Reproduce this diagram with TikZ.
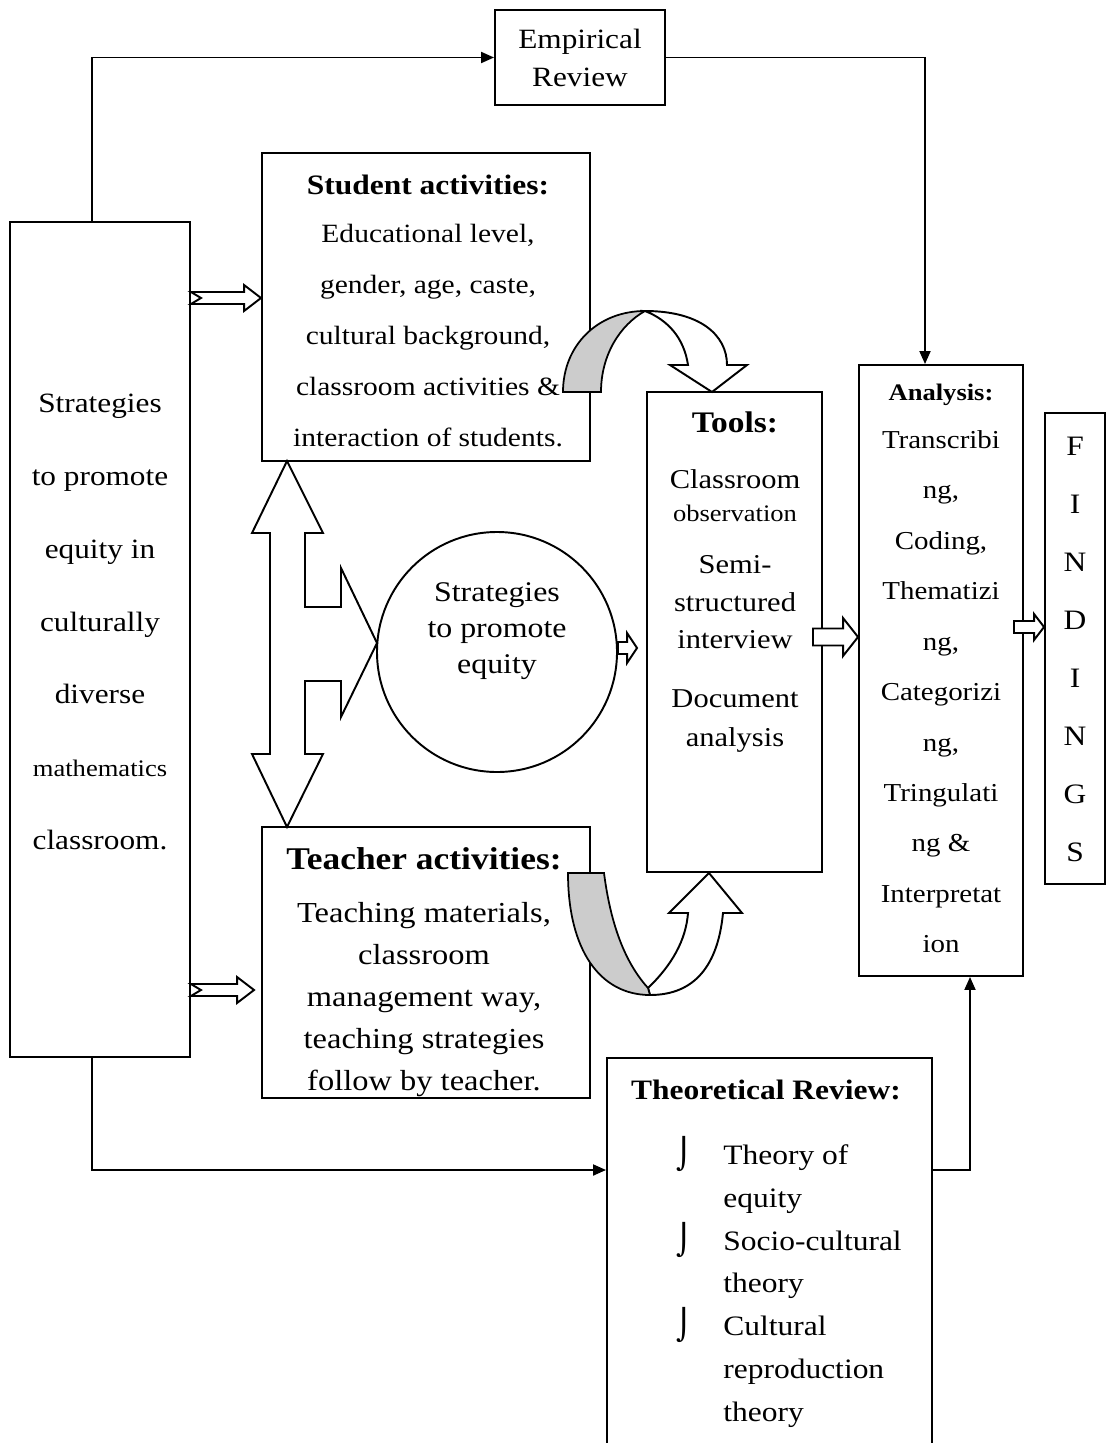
\documentclass[tikz,border=0pt]{standalone}
\usepackage{fontspec}
\setmainfont{Liberation Serif}[FakeStretch=1.12]
\newfontfamily\bulletfont{DejaVu Sans}
\usetikzlibrary{arrows.meta, calc, positioning}
\tikzset{
  box/.style={draw, line width=1.1pt, inner sep=0pt},
  txt/.style={align=center, inner sep=0pt},
  conn/.style={line width=1.1pt, -{Triangle[length=0.26cm, width=0.22cm]}},
  blk/.style={draw, line width=1.1pt, fill=white, line join=miter},
  shade/.style={draw, line width=1pt, fill=gray!40},
}
\newcommand{\px}[1]{#1*0.02cm}
\newcommand{\bul}{\makebox[0.94cm][l]{\bulletfont\fontsize{17}{17}\selectfont ⌡}}
% block arrow pointing right: tail, tip, shaft half, head half, head length, notch
\newcommand{\rblock}[6]{%
  \draw[blk] let \p1=#1, \p2=#2 in
    (\x1,{\y1+#3*0.02cm}) -- ({\x2-#5*0.02cm},{\y1+#3*0.02cm})
    -- ({\x2-#5*0.02cm},{\y1+#4*0.02cm}) -- (\x2,\y1)
    -- ({\x2-#5*0.02cm},{\y1-#4*0.02cm}) -- ({\x2-#5*0.02cm},{\y1-#3*0.02cm})
    -- (\x1,{\y1-#3*0.02cm}) -- ({\x1+#6*0.02cm},\y1) -- cycle;}

\begin{document}
\begin{tikzpicture}[x=0.02cm, y=-0.02cm]
  \clip (0,0) rectangle (1106,1443);
  % boxes
  \node[box, minimum width=\px{180}, minimum height=\px{835}] (strat) at (100,639.5) {};
  \node[txt, font=\fontsize{15.9}{41.5}\selectfont] (stratT) at (100,622)
    {Strategies\\to promote\\equity in\\culturally\\diverse\\{\fontsize{13.5}{41.5}\selectfont mathematics}\\classroom.};
  \node[box, txt, minimum width=\px{170}, minimum height=\px{95}, font=\fontsize{15.9}{21.6}\selectfont] (emp) at (580,57.5) {Empirical\\Review};
  \node[box, minimum width=\px{328}, minimum height=\px{308}] (stud) at (426,307) {};
  \node[txt, font=\fontsize{15}{29}\selectfont] (studT) at (428,311)
    {{\bfseries\fontsize{16}{29}\selectfont Student activities:}\\[-1.7pt] Educational level,\\ gender, age, caste,\\ cultural background,\\ classroom activities \&\\ interaction of students.};
  \node[box, minimum width=\px{328}, minimum height=\px{271}] (teach) at (426,962.5) {};
  \node[txt, font=\fontsize{16.5}{23.9}\selectfont] (teachT) at (424,972)
    {{\bfseries\fontsize{18}{23.9}\selectfont Teacher activities:}\\[6.3pt] Teaching materials,\\ classroom\\ management way,\\ teaching strategies\\ follow by teacher.};
  \node[box, circle, minimum size=\px{240}] (eq) at (497,652) {};
  \node[txt, font=\fontsize{16.2}{20.5}\selectfont] (eqT) at (497,631) {Strategies\\to promote\\equity};
  \node[box, minimum width=\px{175}, minimum height=\px{480}] (tools) at (734.5,632) {};
  \node[txt, font=\fontsize{15.5}{21}\selectfont] (toolsT) at (735,582)
    {{\bfseries\fontsize{17}{21}\selectfont Tools:}\\[10.8pt] Classroom\\[-2.3pt] {\fontsize{13.5}{21}\selectfont observation}\\[8.5pt] Semi-\\[1pt] structured\\ interview\\[12.5pt] Document\\[1pt] analysis};
  \node[box, minimum width=\px{164}, minimum height=\px{611}] (ana) at (941,670.5) {};
  \node[txt, font=\fontsize{14.7}{28.7}\selectfont] (anaT) at (941,668.5)
    {{\bfseries\fontsize{13.5}{28.7}\selectfont Analysis:}\\[-1.4pt] Transcribi\\ ng,\\ Coding,\\ Thematizi\\ ng,\\ Categorizi\\ ng,\\ Tringulati\\ ng \&\\ Interpretat\\ ion};
  \node[box, minimum width=\px{60}, minimum height=\px{471}] (find) at (1075,648.5) {};
  \node[txt, font=\fontsize{16}{33}\selectfont] (findT) at (1075,649) {F\\I\\N\\D\\I\\N\\G\\S};
  \node[box, minimum width=\px{325}, minimum height=\px{500}, anchor=north] (theo) at (769.5,1057) {};
  \node[txt, font=\bfseries\fontsize{16}{20}\selectfont] (theoH) at (766,1090) {Theoretical Review:};
  \node[inner sep=0pt, anchor=north west, font=\fontsize{16}{24.4}\selectfont] (theoL) at (676,1134)
    {\begin{tabular}{@{}l@{}l@{}}
      \bul & Theory of\\
       & equity\\
      \bul & Socio-cultural\\
       & theory\\
      \bul & Cultural\\
       & reproduction\\
       & theory
    \end{tabular}};
  % helper coordinates
  \coordinate (xL) at (92,0);
  \coordinate (xR) at (925,0);
  \coordinate (xB) at (970,0);
  \coordinate (yT) at (0,1170);
  \coordinate (yA) at (0,298);
  \coordinate (yB) at (0,990);
  \coordinate (yC) at (0,648);
  \coordinate (yD) at (0,637);
  \coordinate (yE) at (0,627);
  % line connectors
  \draw[conn] (strat.north -| xL) |- (emp.west);
  \draw[conn] (emp.east) -| (ana.north -| xR);
  \draw[conn] (strat.south -| xL) |- (theo.west |- yT);
  \draw[conn] (theo.east |- yT) -| (ana.south -| xB);
  % block arrows
  \rblock{(strat.east |- yA)}{(stud.west |- yA)}{6}{13}{17}{10}
  \rblock{(strat.east |- yB)}{($(teach.west |- yB)+(-7,0)$)}{6}{13}{17}{10}
  \rblock{(eq.east |- yC)}{($(tools.west |- yC)+(-9,0)$)}{6}{15}{10}{0}
  \rblock{($(tools.east |- yD)+(-10,0)$)}{(ana.west |- yD)}{8.5}{19}{15}{0}
  \rblock{($(ana.east |- yE)+(-10,0)$)}{(find.west |- yE)}{6}{13}{10}{0}
  % double arrow with branch to the circle
  \draw[blk] (287,461) -- (323,533) -- (305,533) -- (305,607) -- (341,607) -- (341,568)
    -- (377,643) -- (341,717) -- (341,681) -- (305,681) -- (305,754) -- (323,754)
    -- (287,827) -- (252,754) -- (270,754) -- (270,533) -- (252,533) -- cycle;
  % curved arrow student -> tools
  \draw[blk] (645,311) .. controls (700,311) and (727,335) .. (727,365) -- (747,365)
    -- (712,392) -- (670,365) -- (688,365) .. controls (684,338) and (668,320) .. (645,311) -- cycle;
  \draw[shade] (563,392) .. controls (563,345) and (598,311) .. (645,311)
    .. controls (620,325) and (601,355) .. (601,392) -- cycle;
  % curved arrow teacher -> tools
  \draw[blk] (648,988) .. controls (672,965) and (686,940) .. (688,913) -- (669,913) -- (709,873)
    -- (742,913) -- (723,913) .. controls (718,965) and (695,995) .. (650,995) -- cycle;
  \draw[shade] (568,873) -- (604,873) .. controls (612,935) and (630,968) .. (648,988) -- (650,995)
    .. controls (600,995) and (568,950) .. (568,873) -- cycle;
\end{tikzpicture}
\end{document}
